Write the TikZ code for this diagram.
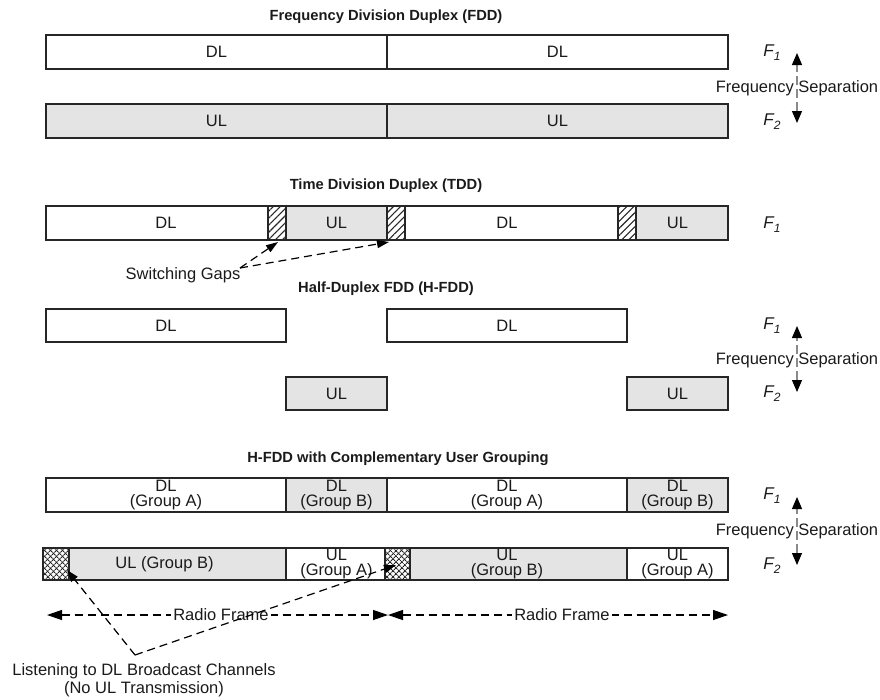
\documentclass[tikz,border=0pt]{standalone}
\usepackage{fontspec}
\setmainfont{Liberation Sans}
\usetikzlibrary{arrows.meta,patterns.meta}
\definecolor{ink}{HTML}{262626}
\definecolor{shade}{HTML}{E4E4E4}
\definecolor{txt}{HTML}{1A1A1A}
\definecolor{sepgray}{HTML}{8A8A8A}
\newcommand{\Fsub}[1]{F\raisebox{-4pt}{\fontsize{12}{12}\selectfont #1}}

\begin{document}
\begin{tikzpicture}[x=1pt,y=-1pt,
  every node/.style={font=\fontsize{16.5}{15}\selectfont, text=txt},
  cell/.style={draw=ink, line width=1.6pt, minimum height=34pt, inner sep=0pt, align=center, fill=white},
  dlcell/.style={cell},
  ulcell/.style={cell, fill=shade},
  gapcell/.style={draw=ink, line width=1.6pt, minimum height=34pt, minimum width=18pt, inner sep=0pt,
    pattern color=ink, preaction={fill=white},
    pattern={Lines[angle=45,distance=5pt,line width=1.1pt]}},
  quietcell/.style={draw=ink, line width=1.6pt, minimum height=32pt, inner sep=0pt,
    pattern color=ink, preaction={fill=white},
    preaction={pattern color=ink, pattern={Lines[angle=45,distance=4pt,line width=1.1pt]}},
    pattern={Lines[angle=-45,distance=4pt,line width=1.1pt]}},
  title/.style={font=\fontsize{14.7}{16}\selectfont\bfseries},
  flabel/.style={font=\fontsize{17}{17}\selectfont\itshape},
  seplabel/.style={inner sep=0pt},
  sepline/.style={draw=sepgray, line width=1.2pt, dash pattern=on 9pt off 4pt,
    {Triangle[length=12pt,width=10pt,color=black]}-{Triangle[length=12pt,width=10pt,color=black]}},
  pointer/.style={draw=black, line width=1.2pt, dash pattern=on 8pt off 5pt,
    -{Triangle[length=12pt,width=8pt]}},
  frame/.style={draw=black, line width=1.2pt, dash pattern=on 8pt off 5pt,
    {Triangle[length=15pt,width=10pt]}-{Triangle[length=15pt,width=10pt]}},
  framelabel/.style={fill=white, inner sep=2pt},
]
\useasboundingbox (0,0) rectangle (880,699);

% ---------------- Frequency Division Duplex ----------------
\node[title] (fddTitle) at (386,17) {Frequency Division Duplex (FDD)};
\node[dlcell, minimum width=341pt] (fddDLa) at (216.5,52) {DL};
\node[dlcell, minimum width=341pt] (fddDLb) at (557.5,52) {DL};
\node[ulcell, minimum width=341pt] (fddULa) at (216.5,121) {UL};
\node[ulcell, minimum width=341pt] (fddULb) at (557.5,121) {UL};
\node[flabel] (fddF1) at (772,53) {\Fsub{1}};
\node[flabel] (fddF2) at (772,122) {\Fsub{2}};
\coordinate (fddSepTop) at (797,53);
\coordinate (fddSepBot) at (797,123);
\draw[sepline] (fddSepBot) -- (fddSepTop);
\node[seplabel] (fddSep) at (797,88) {Frequency Separation};

% ---------------- Time Division Duplex ----------------
\node[title] (tddTitle) at (386,186) {Time Division Duplex (TDD)};
\node[dlcell, minimum width=240pt] (tddDLa) at (166,223) {DL};
\node[ulcell, minimum width=101pt] (tddULa) at (336.5,223) {UL};
\node[dlcell, minimum width=240pt] (tddDLb) at (507,223) {DL};
\node[ulcell, minimum width=101pt] (tddULb) at (677.5,223) {UL};
\node[gapcell] (gap1) at (277,223) {};
\node[gapcell] (gap2) at (396,223) {};
\node[gapcell] (gap3) at (627,223) {};
\node[flabel] (tddF1) at (772,225) {\Fsub{1}};
\node (swGaps) at (183,275) {Switching Gaps};
\coordinate (swStart) at (240,268);
\coordinate (swTipA) at (278,242);
\coordinate (swTipB) at (389,242);
\draw[pointer] (swStart) -- (swTipA);
\draw[pointer] (swStart) -- (swTipB);

% ---------------- Half-Duplex FDD ----------------
\node[title] (hfddTitle) at (386,289) {Half-Duplex FDD (H-FDD)};
\node[dlcell, minimum width=240pt, minimum height=33pt] (hDLa) at (166,325.5) {DL};
\node[dlcell, minimum width=240pt, minimum height=33pt] (hDLb) at (507,325.5) {DL};
\node[ulcell, minimum width=101pt, minimum height=33pt] (hULa) at (336.5,393.5) {UL};
\node[ulcell, minimum width=101pt, minimum height=33pt] (hULb) at (677.5,393.5) {UL};
\node[flabel] (hF1) at (772,326) {\Fsub{1}};
\node[flabel] (hF2) at (772,394) {\Fsub{2}};
\coordinate (hSepTop) at (797,326);
\coordinate (hSepBot) at (797,392);
\draw[sepline] (hSepBot) -- (hSepTop);
\node[seplabel] (hSep) at (797,360) {Frequency Separation};

% ---------------- H-FDD with complementary grouping ----------------
\node[title] (cTitle) at (398,459) {H-FDD with Complementary User Grouping};
\node[dlcell, minimum width=240pt] (cDLa) at (166,495) {DL\\(Group A)};
\node[ulcell, minimum width=101pt] (cDLb) at (336.5,495) {DL\\(Group B)};
\node[dlcell, minimum width=240pt] (cDLc) at (507,495) {DL\\(Group A)};
\node[ulcell, minimum width=101pt] (cDLd) at (677.5,495) {DL\\(Group B)};
\node[ulcell, minimum width=243pt, minimum height=32pt] (cULa) at (164.5,564) {UL (Group B)};
\node[dlcell, minimum width=101pt, minimum height=32pt] (cULb) at (336.5,564) {UL\\(Group A)};
\node[ulcell, minimum width=240pt, minimum height=32pt] (cULc) at (507,564) {UL\\(Group B)};
\node[dlcell, minimum width=101pt, minimum height=32pt] (cULd) at (677.5,564) {UL\\(Group A)};
\node[quietcell, minimum width=26pt] (quiet1) at (56,564) {};
\node[quietcell, minimum width=25pt] (quiet2) at (397.5,564) {};
\node[flabel] (cF1) at (772,496) {\Fsub{1}};
\node[flabel] (cF2) at (772,566) {\Fsub{2}};
\coordinate (cSepTop) at (797,497);
\coordinate (cSepBot) at (797,565);
\draw[sepline] (cSepBot) -- (cSepTop);
\node[seplabel] (cSep) at (797,531) {Frequency Separation};

% radio frames
\coordinate (rfA) at (47,615);
\coordinate (rfB) at (388,615);
\coordinate (rfC) at (728,615);
\draw[frame] (rfA) -- (rfB);
\draw[frame] (rfB) -- (rfC);
\node[framelabel] (rfLabelA) at (221,615) {Radio Frame};
\node[framelabel] (rfLabelB) at (562,615) {Radio Frame};

% listening periods
\node[align=center, font=\fontsize{16.5}{18}\selectfont] (listen) at (144,680)
  {Listening to DL Broadcast Channels\\(No UL Transmission)};
\coordinate (listenV) at (135,655);
\coordinate (listenTipA) at (67,570);
\coordinate (listenTipB) at (396,565);
\draw[pointer] (listenV) -- (listenTipA);
\draw[pointer] (listenV) -- (listenTipB);
\end{tikzpicture}
\end{document}
